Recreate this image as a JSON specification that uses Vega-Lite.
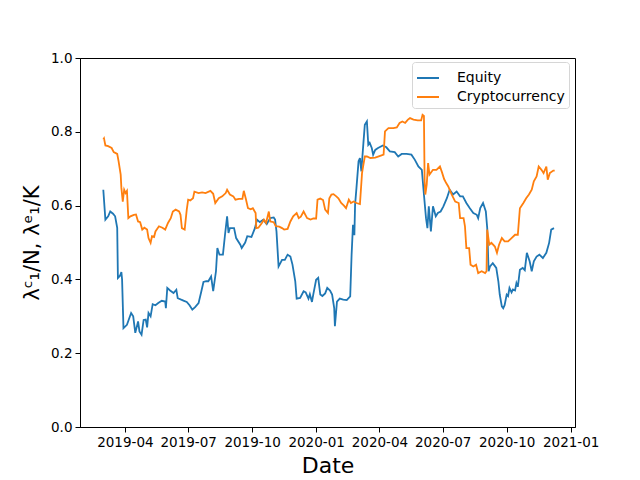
{
  "$schema": "https://vega.github.io/schema/vega-lite/v6.json",
  "width": 495,
  "height": 369,
  "autosize": {"type": "none"},
  "padding": {"left": 80, "top": 58, "right": 65, "bottom": 53},
  "background": "white",
  "config": {
    "font": "DejaVu Sans",
    "view": {"stroke": "black", "strokeWidth": 1}
  },
  "data": {
    "values": [
      {"date": "2019-03-01", "series": "Equity", "value": 0.643},
      {"date": "2019-03-04", "series": "Equity", "value": 0.562},
      {"date": "2019-03-08", "series": "Equity", "value": 0.571},
      {"date": "2019-03-11", "series": "Equity", "value": 0.584},
      {"date": "2019-03-15", "series": "Equity", "value": 0.578},
      {"date": "2019-03-18", "series": "Equity", "value": 0.571},
      {"date": "2019-03-21", "series": "Equity", "value": 0.54},
      {"date": "2019-03-22", "series": "Equity", "value": 0.404},
      {"date": "2019-03-25", "series": "Equity", "value": 0.41},
      {"date": "2019-03-27", "series": "Equity", "value": 0.42},
      {"date": "2019-03-28", "series": "Equity", "value": 0.4},
      {"date": "2019-03-30", "series": "Equity", "value": 0.268},
      {"date": "2019-04-04", "series": "Equity", "value": 0.277},
      {"date": "2019-04-10", "series": "Equity", "value": 0.309},
      {"date": "2019-04-13", "series": "Equity", "value": 0.3},
      {"date": "2019-04-16", "series": "Equity", "value": 0.255},
      {"date": "2019-04-20", "series": "Equity", "value": 0.286},
      {"date": "2019-04-22", "series": "Equity", "value": 0.259},
      {"date": "2019-04-25", "series": "Equity", "value": 0.25},
      {"date": "2019-04-28", "series": "Equity", "value": 0.29},
      {"date": "2019-05-01", "series": "Equity", "value": 0.291},
      {"date": "2019-05-03", "series": "Equity", "value": 0.27},
      {"date": "2019-05-05", "series": "Equity", "value": 0.309},
      {"date": "2019-05-08", "series": "Equity", "value": 0.3},
      {"date": "2019-05-11", "series": "Equity", "value": 0.333},
      {"date": "2019-05-15", "series": "Equity", "value": 0.33},
      {"date": "2019-05-19", "series": "Equity", "value": 0.336},
      {"date": "2019-05-24", "series": "Equity", "value": 0.342},
      {"date": "2019-05-29", "series": "Equity", "value": 0.34},
      {"date": "2019-05-30", "series": "Equity", "value": 0.322},
      {"date": "2019-06-01", "series": "Equity", "value": 0.377},
      {"date": "2019-06-05", "series": "Equity", "value": 0.37},
      {"date": "2019-06-10", "series": "Equity", "value": 0.363},
      {"date": "2019-06-14", "series": "Equity", "value": 0.372},
      {"date": "2019-06-16", "series": "Equity", "value": 0.349},
      {"date": "2019-06-21", "series": "Equity", "value": 0.345},
      {"date": "2019-06-25", "series": "Equity", "value": 0.342},
      {"date": "2019-06-29", "series": "Equity", "value": 0.339},
      {"date": "2019-07-03", "series": "Equity", "value": 0.33},
      {"date": "2019-07-07", "series": "Equity", "value": 0.318},
      {"date": "2019-07-11", "series": "Equity", "value": 0.325},
      {"date": "2019-07-16", "series": "Equity", "value": 0.336},
      {"date": "2019-07-20", "series": "Equity", "value": 0.368},
      {"date": "2019-07-23", "series": "Equity", "value": 0.393},
      {"date": "2019-07-27", "series": "Equity", "value": 0.395},
      {"date": "2019-07-30", "series": "Equity", "value": 0.395},
      {"date": "2019-08-03", "series": "Equity", "value": 0.408},
      {"date": "2019-08-06", "series": "Equity", "value": 0.368},
      {"date": "2019-08-10", "series": "Equity", "value": 0.422},
      {"date": "2019-08-12", "series": "Equity", "value": 0.485},
      {"date": "2019-08-15", "series": "Equity", "value": 0.467},
      {"date": "2019-08-20", "series": "Equity", "value": 0.467},
      {"date": "2019-08-23", "series": "Equity", "value": 0.521},
      {"date": "2019-08-26", "series": "Equity", "value": 0.571},
      {"date": "2019-08-28", "series": "Equity", "value": 0.526},
      {"date": "2019-08-30", "series": "Equity", "value": 0.539},
      {"date": "2019-09-05", "series": "Equity", "value": 0.539},
      {"date": "2019-09-08", "series": "Equity", "value": 0.512},
      {"date": "2019-09-14", "series": "Equity", "value": 0.494},
      {"date": "2019-09-16", "series": "Equity", "value": 0.485},
      {"date": "2019-09-21", "series": "Equity", "value": 0.5},
      {"date": "2019-09-24", "series": "Equity", "value": 0.517},
      {"date": "2019-09-30", "series": "Equity", "value": 0.515},
      {"date": "2019-10-05", "series": "Equity", "value": 0.539},
      {"date": "2019-10-08", "series": "Equity", "value": 0.562},
      {"date": "2019-10-12", "series": "Equity", "value": 0.555},
      {"date": "2019-10-17", "series": "Equity", "value": 0.562},
      {"date": "2019-10-22", "series": "Equity", "value": 0.55},
      {"date": "2019-10-27", "series": "Equity", "value": 0.566},
      {"date": "2019-11-01", "series": "Equity", "value": 0.568},
      {"date": "2019-11-03", "series": "Equity", "value": 0.562},
      {"date": "2019-11-05", "series": "Equity", "value": 0.53},
      {"date": "2019-11-08", "series": "Equity", "value": 0.435},
      {"date": "2019-11-13", "series": "Equity", "value": 0.453},
      {"date": "2019-11-17", "series": "Equity", "value": 0.453},
      {"date": "2019-11-21", "series": "Equity", "value": 0.467},
      {"date": "2019-11-25", "series": "Equity", "value": 0.462},
      {"date": "2019-11-28", "series": "Equity", "value": 0.44},
      {"date": "2019-12-02", "series": "Equity", "value": 0.395},
      {"date": "2019-12-04", "series": "Equity", "value": 0.348},
      {"date": "2019-12-09", "series": "Equity", "value": 0.35},
      {"date": "2019-12-14", "series": "Equity", "value": 0.368},
      {"date": "2019-12-17", "series": "Equity", "value": 0.365},
      {"date": "2019-12-21", "series": "Equity", "value": 0.348},
      {"date": "2019-12-23", "series": "Equity", "value": 0.36},
      {"date": "2019-12-26", "series": "Equity", "value": 0.339},
      {"date": "2019-12-28", "series": "Equity", "value": 0.36},
      {"date": "2020-01-01", "series": "Equity", "value": 0.399},
      {"date": "2020-01-04", "series": "Equity", "value": 0.404},
      {"date": "2020-01-07", "series": "Equity", "value": 0.359},
      {"date": "2020-01-10", "series": "Equity", "value": 0.355},
      {"date": "2020-01-14", "series": "Equity", "value": 0.362},
      {"date": "2020-01-17", "series": "Equity", "value": 0.377},
      {"date": "2020-01-21", "series": "Equity", "value": 0.37},
      {"date": "2020-01-24", "series": "Equity", "value": 0.359},
      {"date": "2020-01-27", "series": "Equity", "value": 0.322},
      {"date": "2020-01-28", "series": "Equity", "value": 0.273},
      {"date": "2020-01-31", "series": "Equity", "value": 0.34},
      {"date": "2020-02-04", "series": "Equity", "value": 0.348},
      {"date": "2020-02-09", "series": "Equity", "value": 0.345},
      {"date": "2020-02-14", "series": "Equity", "value": 0.344},
      {"date": "2020-02-19", "series": "Equity", "value": 0.354},
      {"date": "2020-02-21", "series": "Equity", "value": 0.467},
      {"date": "2020-02-23", "series": "Equity", "value": 0.548},
      {"date": "2020-02-25", "series": "Equity", "value": 0.52},
      {"date": "2020-02-26", "series": "Equity", "value": 0.602},
      {"date": "2020-02-28", "series": "Equity", "value": 0.648},
      {"date": "2020-03-02", "series": "Equity", "value": 0.72},
      {"date": "2020-03-04", "series": "Equity", "value": 0.729},
      {"date": "2020-03-06", "series": "Equity", "value": 0.693},
      {"date": "2020-03-09", "series": "Equity", "value": 0.77},
      {"date": "2020-03-11", "series": "Equity", "value": 0.819},
      {"date": "2020-03-14", "series": "Equity", "value": 0.828},
      {"date": "2020-03-16", "series": "Equity", "value": 0.765},
      {"date": "2020-03-18", "series": "Equity", "value": 0.77},
      {"date": "2020-03-21", "series": "Equity", "value": 0.756},
      {"date": "2020-03-23", "series": "Equity", "value": 0.738},
      {"date": "2020-03-26", "series": "Equity", "value": 0.751},
      {"date": "2020-03-30", "series": "Equity", "value": 0.756},
      {"date": "2020-04-06", "series": "Equity", "value": 0.763},
      {"date": "2020-04-11", "series": "Equity", "value": 0.758},
      {"date": "2020-04-16", "series": "Equity", "value": 0.747},
      {"date": "2020-04-23", "series": "Equity", "value": 0.745},
      {"date": "2020-04-28", "series": "Equity", "value": 0.733},
      {"date": "2020-05-03", "series": "Equity", "value": 0.74},
      {"date": "2020-05-10", "series": "Equity", "value": 0.74},
      {"date": "2020-05-17", "series": "Equity", "value": 0.738},
      {"date": "2020-05-22", "series": "Equity", "value": 0.724},
      {"date": "2020-05-27", "series": "Equity", "value": 0.706},
      {"date": "2020-06-01", "series": "Equity", "value": 0.697},
      {"date": "2020-06-04", "series": "Equity", "value": 0.63},
      {"date": "2020-06-07", "series": "Equity", "value": 0.566},
      {"date": "2020-06-09", "series": "Equity", "value": 0.539},
      {"date": "2020-06-11", "series": "Equity", "value": 0.598},
      {"date": "2020-06-14", "series": "Equity", "value": 0.53},
      {"date": "2020-06-17", "series": "Equity", "value": 0.598},
      {"date": "2020-06-21", "series": "Equity", "value": 0.571},
      {"date": "2020-06-24", "series": "Equity", "value": 0.58},
      {"date": "2020-06-28", "series": "Equity", "value": 0.584},
      {"date": "2020-07-02", "series": "Equity", "value": 0.598},
      {"date": "2020-07-07", "series": "Equity", "value": 0.62},
      {"date": "2020-07-11", "series": "Equity", "value": 0.643},
      {"date": "2020-07-16", "series": "Equity", "value": 0.63},
      {"date": "2020-07-21", "series": "Equity", "value": 0.638},
      {"date": "2020-07-26", "series": "Equity", "value": 0.625},
      {"date": "2020-07-30", "series": "Equity", "value": 0.625},
      {"date": "2020-08-04", "series": "Equity", "value": 0.607},
      {"date": "2020-08-09", "series": "Equity", "value": 0.593},
      {"date": "2020-08-14", "series": "Equity", "value": 0.58},
      {"date": "2020-08-19", "series": "Equity", "value": 0.575},
      {"date": "2020-08-21", "series": "Equity", "value": 0.566},
      {"date": "2020-08-24", "series": "Equity", "value": 0.593},
      {"date": "2020-08-28", "series": "Equity", "value": 0.607},
      {"date": "2020-09-01", "series": "Equity", "value": 0.584},
      {"date": "2020-09-03", "series": "Equity", "value": 0.539},
      {"date": "2020-09-05", "series": "Equity", "value": 0.422},
      {"date": "2020-09-07", "series": "Equity", "value": 0.435},
      {"date": "2020-09-11", "series": "Equity", "value": 0.444},
      {"date": "2020-09-16", "series": "Equity", "value": 0.431},
      {"date": "2020-09-19", "series": "Equity", "value": 0.395},
      {"date": "2020-09-21", "series": "Equity", "value": 0.359},
      {"date": "2020-09-24", "series": "Equity", "value": 0.327},
      {"date": "2020-09-26", "series": "Equity", "value": 0.322},
      {"date": "2020-09-28", "series": "Equity", "value": 0.33},
      {"date": "2020-10-01", "series": "Equity", "value": 0.359},
      {"date": "2020-10-03", "series": "Equity", "value": 0.355},
      {"date": "2020-10-05", "series": "Equity", "value": 0.377},
      {"date": "2020-10-08", "series": "Equity", "value": 0.365},
      {"date": "2020-10-10", "series": "Equity", "value": 0.373},
      {"date": "2020-10-13", "series": "Equity", "value": 0.37},
      {"date": "2020-10-15", "series": "Equity", "value": 0.39},
      {"date": "2020-10-17", "series": "Equity", "value": 0.38},
      {"date": "2020-10-20", "series": "Equity", "value": 0.426},
      {"date": "2020-10-24", "series": "Equity", "value": 0.431},
      {"date": "2020-10-27", "series": "Equity", "value": 0.425},
      {"date": "2020-10-30", "series": "Equity", "value": 0.472},
      {"date": "2020-11-03", "series": "Equity", "value": 0.449},
      {"date": "2020-11-06", "series": "Equity", "value": 0.422},
      {"date": "2020-11-09", "series": "Equity", "value": 0.449},
      {"date": "2020-11-13", "series": "Equity", "value": 0.462},
      {"date": "2020-11-17", "series": "Equity", "value": 0.467},
      {"date": "2020-11-22", "series": "Equity", "value": 0.458},
      {"date": "2020-11-27", "series": "Equity", "value": 0.472},
      {"date": "2020-12-01", "series": "Equity", "value": 0.499},
      {"date": "2020-12-04", "series": "Equity", "value": 0.535},
      {"date": "2020-12-08", "series": "Equity", "value": 0.539},
      {"date": "2019-03-01", "series": "Cryptocurrency", "value": 0.779},
      {"date": "2019-03-02", "series": "Cryptocurrency", "value": 0.782},
      {"date": "2019-03-04", "series": "Cryptocurrency", "value": 0.763},
      {"date": "2019-03-08", "series": "Cryptocurrency", "value": 0.761},
      {"date": "2019-03-13", "series": "Cryptocurrency", "value": 0.756},
      {"date": "2019-03-16", "series": "Cryptocurrency", "value": 0.745},
      {"date": "2019-03-21", "series": "Cryptocurrency", "value": 0.74},
      {"date": "2019-03-23", "series": "Cryptocurrency", "value": 0.72},
      {"date": "2019-03-26", "series": "Cryptocurrency", "value": 0.684},
      {"date": "2019-03-27", "series": "Cryptocurrency", "value": 0.648},
      {"date": "2019-03-29", "series": "Cryptocurrency", "value": 0.611},
      {"date": "2019-03-31", "series": "Cryptocurrency", "value": 0.643},
      {"date": "2019-04-02", "series": "Cryptocurrency", "value": 0.634},
      {"date": "2019-04-04", "series": "Cryptocurrency", "value": 0.64},
      {"date": "2019-04-06", "series": "Cryptocurrency", "value": 0.566},
      {"date": "2019-04-09", "series": "Cryptocurrency", "value": 0.571},
      {"date": "2019-04-14", "series": "Cryptocurrency", "value": 0.575},
      {"date": "2019-04-17", "series": "Cryptocurrency", "value": 0.576},
      {"date": "2019-04-20", "series": "Cryptocurrency", "value": 0.557},
      {"date": "2019-04-23", "series": "Cryptocurrency", "value": 0.555},
      {"date": "2019-04-26", "series": "Cryptocurrency", "value": 0.535},
      {"date": "2019-04-29", "series": "Cryptocurrency", "value": 0.54},
      {"date": "2019-05-03", "series": "Cryptocurrency", "value": 0.535},
      {"date": "2019-05-05", "series": "Cryptocurrency", "value": 0.512},
      {"date": "2019-05-08", "series": "Cryptocurrency", "value": 0.499},
      {"date": "2019-05-10", "series": "Cryptocurrency", "value": 0.517},
      {"date": "2019-05-13", "series": "Cryptocurrency", "value": 0.515},
      {"date": "2019-05-15", "series": "Cryptocurrency", "value": 0.53},
      {"date": "2019-05-20", "series": "Cryptocurrency", "value": 0.544},
      {"date": "2019-05-25", "series": "Cryptocurrency", "value": 0.54},
      {"date": "2019-05-29", "series": "Cryptocurrency", "value": 0.535},
      {"date": "2019-06-02", "series": "Cryptocurrency", "value": 0.553},
      {"date": "2019-06-06", "series": "Cryptocurrency", "value": 0.566},
      {"date": "2019-06-09", "series": "Cryptocurrency", "value": 0.584},
      {"date": "2019-06-13", "series": "Cryptocurrency", "value": 0.589},
      {"date": "2019-06-18", "series": "Cryptocurrency", "value": 0.584},
      {"date": "2019-06-20", "series": "Cryptocurrency", "value": 0.575},
      {"date": "2019-06-22", "series": "Cryptocurrency", "value": 0.539},
      {"date": "2019-06-26", "series": "Cryptocurrency", "value": 0.535},
      {"date": "2019-06-29", "series": "Cryptocurrency", "value": 0.589},
      {"date": "2019-07-01", "series": "Cryptocurrency", "value": 0.616},
      {"date": "2019-07-04", "series": "Cryptocurrency", "value": 0.614},
      {"date": "2019-07-08", "series": "Cryptocurrency", "value": 0.62},
      {"date": "2019-07-10", "series": "Cryptocurrency", "value": 0.638},
      {"date": "2019-07-16", "series": "Cryptocurrency", "value": 0.634},
      {"date": "2019-07-21", "series": "Cryptocurrency", "value": 0.636},
      {"date": "2019-07-26", "series": "Cryptocurrency", "value": 0.634},
      {"date": "2019-08-02", "series": "Cryptocurrency", "value": 0.64},
      {"date": "2019-08-06", "series": "Cryptocurrency", "value": 0.632},
      {"date": "2019-08-09", "series": "Cryptocurrency", "value": 0.607},
      {"date": "2019-08-14", "series": "Cryptocurrency", "value": 0.62},
      {"date": "2019-08-19", "series": "Cryptocurrency", "value": 0.625},
      {"date": "2019-08-24", "series": "Cryptocurrency", "value": 0.634},
      {"date": "2019-08-26", "series": "Cryptocurrency", "value": 0.643},
      {"date": "2019-08-30", "series": "Cryptocurrency", "value": 0.63},
      {"date": "2019-09-04", "series": "Cryptocurrency", "value": 0.625},
      {"date": "2019-09-07", "series": "Cryptocurrency", "value": 0.616},
      {"date": "2019-09-12", "series": "Cryptocurrency", "value": 0.618},
      {"date": "2019-09-17", "series": "Cryptocurrency", "value": 0.618},
      {"date": "2019-09-19", "series": "Cryptocurrency", "value": 0.64},
      {"date": "2019-09-22", "series": "Cryptocurrency", "value": 0.618},
      {"date": "2019-09-25", "series": "Cryptocurrency", "value": 0.593},
      {"date": "2019-09-29", "series": "Cryptocurrency", "value": 0.59},
      {"date": "2019-10-02", "series": "Cryptocurrency", "value": 0.593},
      {"date": "2019-10-06", "series": "Cryptocurrency", "value": 0.58},
      {"date": "2019-10-07", "series": "Cryptocurrency", "value": 0.539},
      {"date": "2019-10-10", "series": "Cryptocurrency", "value": 0.54},
      {"date": "2019-10-15", "series": "Cryptocurrency", "value": 0.553},
      {"date": "2019-10-18", "series": "Cryptocurrency", "value": 0.562},
      {"date": "2019-10-21", "series": "Cryptocurrency", "value": 0.553},
      {"date": "2019-10-25", "series": "Cryptocurrency", "value": 0.584},
      {"date": "2019-10-27", "series": "Cryptocurrency", "value": 0.557},
      {"date": "2019-11-01", "series": "Cryptocurrency", "value": 0.555},
      {"date": "2019-11-04", "series": "Cryptocurrency", "value": 0.544},
      {"date": "2019-11-09", "series": "Cryptocurrency", "value": 0.543},
      {"date": "2019-11-13", "series": "Cryptocurrency", "value": 0.539},
      {"date": "2019-11-16", "series": "Cryptocurrency", "value": 0.535},
      {"date": "2019-11-21", "series": "Cryptocurrency", "value": 0.537},
      {"date": "2019-11-25", "series": "Cryptocurrency", "value": 0.557},
      {"date": "2019-11-29", "series": "Cryptocurrency", "value": 0.571},
      {"date": "2019-12-04", "series": "Cryptocurrency", "value": 0.58},
      {"date": "2019-12-07", "series": "Cryptocurrency", "value": 0.566},
      {"date": "2019-12-10", "series": "Cryptocurrency", "value": 0.57},
      {"date": "2019-12-14", "series": "Cryptocurrency", "value": 0.584},
      {"date": "2019-12-19", "series": "Cryptocurrency", "value": 0.566},
      {"date": "2019-12-24", "series": "Cryptocurrency", "value": 0.562},
      {"date": "2019-12-28", "series": "Cryptocurrency", "value": 0.565},
      {"date": "2020-01-01", "series": "Cryptocurrency", "value": 0.565},
      {"date": "2020-01-03", "series": "Cryptocurrency", "value": 0.616},
      {"date": "2020-01-07", "series": "Cryptocurrency", "value": 0.619},
      {"date": "2020-01-11", "series": "Cryptocurrency", "value": 0.615},
      {"date": "2020-01-14", "series": "Cryptocurrency", "value": 0.589},
      {"date": "2020-01-18", "series": "Cryptocurrency", "value": 0.58},
      {"date": "2020-01-20", "series": "Cryptocurrency", "value": 0.62},
      {"date": "2020-01-23", "series": "Cryptocurrency", "value": 0.63},
      {"date": "2020-01-26", "series": "Cryptocurrency", "value": 0.631},
      {"date": "2020-01-30", "series": "Cryptocurrency", "value": 0.625},
      {"date": "2020-02-02", "series": "Cryptocurrency", "value": 0.62},
      {"date": "2020-02-06", "series": "Cryptocurrency", "value": 0.607},
      {"date": "2020-02-10", "series": "Cryptocurrency", "value": 0.6},
      {"date": "2020-02-13", "series": "Cryptocurrency", "value": 0.593},
      {"date": "2020-02-17", "series": "Cryptocurrency", "value": 0.616},
      {"date": "2020-02-20", "series": "Cryptocurrency", "value": 0.607},
      {"date": "2020-02-24", "series": "Cryptocurrency", "value": 0.611},
      {"date": "2020-02-28", "series": "Cryptocurrency", "value": 0.607},
      {"date": "2020-03-04", "series": "Cryptocurrency", "value": 0.604},
      {"date": "2020-03-07", "series": "Cryptocurrency", "value": 0.688},
      {"date": "2020-03-09", "series": "Cryptocurrency", "value": 0.711},
      {"date": "2020-03-11", "series": "Cryptocurrency", "value": 0.733},
      {"date": "2020-03-14", "series": "Cryptocurrency", "value": 0.733},
      {"date": "2020-03-19", "series": "Cryptocurrency", "value": 0.729},
      {"date": "2020-03-26", "series": "Cryptocurrency", "value": 0.73},
      {"date": "2020-04-02", "series": "Cryptocurrency", "value": 0.735},
      {"date": "2020-04-07", "series": "Cryptocurrency", "value": 0.738},
      {"date": "2020-04-09", "series": "Cryptocurrency", "value": 0.801},
      {"date": "2020-04-14", "series": "Cryptocurrency", "value": 0.81},
      {"date": "2020-04-21", "series": "Cryptocurrency", "value": 0.81},
      {"date": "2020-04-26", "series": "Cryptocurrency", "value": 0.812},
      {"date": "2020-04-30", "series": "Cryptocurrency", "value": 0.824},
      {"date": "2020-05-04", "series": "Cryptocurrency", "value": 0.828},
      {"date": "2020-05-08", "series": "Cryptocurrency", "value": 0.824},
      {"date": "2020-05-12", "series": "Cryptocurrency", "value": 0.833},
      {"date": "2020-05-15", "series": "Cryptocurrency", "value": 0.837},
      {"date": "2020-05-20", "series": "Cryptocurrency", "value": 0.833},
      {"date": "2020-05-26", "series": "Cryptocurrency", "value": 0.831},
      {"date": "2020-05-31", "series": "Cryptocurrency", "value": 0.831},
      {"date": "2020-06-02", "series": "Cryptocurrency", "value": 0.846},
      {"date": "2020-06-04", "series": "Cryptocurrency", "value": 0.843},
      {"date": "2020-06-05", "series": "Cryptocurrency", "value": 0.666},
      {"date": "2020-06-06", "series": "Cryptocurrency", "value": 0.63},
      {"date": "2020-06-08", "series": "Cryptocurrency", "value": 0.657},
      {"date": "2020-06-10", "series": "Cryptocurrency", "value": 0.715},
      {"date": "2020-06-12", "series": "Cryptocurrency", "value": 0.684},
      {"date": "2020-06-17", "series": "Cryptocurrency", "value": 0.697},
      {"date": "2020-06-22", "series": "Cryptocurrency", "value": 0.697},
      {"date": "2020-06-27", "series": "Cryptocurrency", "value": 0.706},
      {"date": "2020-06-30", "series": "Cryptocurrency", "value": 0.69},
      {"date": "2020-07-03", "series": "Cryptocurrency", "value": 0.672},
      {"date": "2020-07-06", "series": "Cryptocurrency", "value": 0.661},
      {"date": "2020-07-09", "series": "Cryptocurrency", "value": 0.652},
      {"date": "2020-07-14", "series": "Cryptocurrency", "value": 0.63},
      {"date": "2020-07-19", "series": "Cryptocurrency", "value": 0.611},
      {"date": "2020-07-24", "series": "Cryptocurrency", "value": 0.607},
      {"date": "2020-07-26", "series": "Cryptocurrency", "value": 0.566},
      {"date": "2020-07-31", "series": "Cryptocurrency", "value": 0.566},
      {"date": "2020-08-02", "series": "Cryptocurrency", "value": 0.544},
      {"date": "2020-08-04", "series": "Cryptocurrency", "value": 0.485},
      {"date": "2020-08-08", "series": "Cryptocurrency", "value": 0.485},
      {"date": "2020-08-10", "series": "Cryptocurrency", "value": 0.44},
      {"date": "2020-08-14", "series": "Cryptocurrency", "value": 0.435},
      {"date": "2020-08-18", "series": "Cryptocurrency", "value": 0.44},
      {"date": "2020-08-21", "series": "Cryptocurrency", "value": 0.417},
      {"date": "2020-08-26", "series": "Cryptocurrency", "value": 0.422},
      {"date": "2020-08-31", "series": "Cryptocurrency", "value": 0.417},
      {"date": "2020-09-02", "series": "Cryptocurrency", "value": 0.422},
      {"date": "2020-09-03", "series": "Cryptocurrency", "value": 0.535},
      {"date": "2020-09-06", "series": "Cryptocurrency", "value": 0.494},
      {"date": "2020-09-09", "series": "Cryptocurrency", "value": 0.499},
      {"date": "2020-09-14", "series": "Cryptocurrency", "value": 0.489},
      {"date": "2020-09-17", "series": "Cryptocurrency", "value": 0.472},
      {"date": "2020-09-20", "series": "Cryptocurrency", "value": 0.494},
      {"date": "2020-09-24", "series": "Cryptocurrency", "value": 0.512},
      {"date": "2020-09-28", "series": "Cryptocurrency", "value": 0.503},
      {"date": "2020-10-03", "series": "Cryptocurrency", "value": 0.503},
      {"date": "2020-10-08", "series": "Cryptocurrency", "value": 0.512},
      {"date": "2020-10-13", "series": "Cryptocurrency", "value": 0.521},
      {"date": "2020-10-17", "series": "Cryptocurrency", "value": 0.521},
      {"date": "2020-10-20", "series": "Cryptocurrency", "value": 0.593},
      {"date": "2020-10-25", "series": "Cryptocurrency", "value": 0.607},
      {"date": "2020-10-29", "series": "Cryptocurrency", "value": 0.62},
      {"date": "2020-11-02", "series": "Cryptocurrency", "value": 0.63},
      {"date": "2020-11-06", "series": "Cryptocurrency", "value": 0.643},
      {"date": "2020-11-09", "series": "Cryptocurrency", "value": 0.666},
      {"date": "2020-11-13", "series": "Cryptocurrency", "value": 0.679},
      {"date": "2020-11-16", "series": "Cryptocurrency", "value": 0.706},
      {"date": "2020-11-20", "series": "Cryptocurrency", "value": 0.697},
      {"date": "2020-11-23", "series": "Cryptocurrency", "value": 0.688},
      {"date": "2020-11-27", "series": "Cryptocurrency", "value": 0.706},
      {"date": "2020-11-29", "series": "Cryptocurrency", "value": 0.67},
      {"date": "2020-12-02", "series": "Cryptocurrency", "value": 0.688},
      {"date": "2020-12-07", "series": "Cryptocurrency", "value": 0.695},
      {"date": "2020-12-09", "series": "Cryptocurrency", "value": 0.695}
    ]
  },
  "mark": {"type": "line", "strokeWidth": 1.8},
  "encoding": {
    "x": {
      "field": "date",
      "type": "temporal",
      "scale": {
        "type": "utc",
        "domain": [
          {"year": 2019, "month": 1, "date": 26, "hours": 12, "utc": true},
          {"year": 2021, "month": 1, "date": 7, "hours": 5, "utc": true}
        ]
      },
      "axis": {
        "title": "Date",
        "titleFontSize": 22,
        "titleFontWeight": "normal",
        "titleColor": "black",
        "titlePadding": 7,
        "labelExpr": "utcFormat(datum.value, '%Y-%m')",
        "tickCount": {"interval": "month", "step": 3},
        "labelFontSize": 13.5,
        "labelColor": "black",
        "labelPadding": 3,
        "labelFlush": false,
        "labelOverlap": false,
        "tickSize": 5,
        "tickColor": "black",
        "domainColor": "black",
        "grid": false
      }
    },
    "y": {
      "field": "value",
      "type": "quantitative",
      "scale": {"domain": [0, 1], "nice": false},
      "axis": {
        "title": "λᶜ₁/N, λᵉ₁/K",
        "titleFontSize": 21,
        "titleFontWeight": "normal",
        "titleColor": "black",
        "titlePadding": 8,
        "values": [0, 0.2, 0.4, 0.6, 0.8, 1],
        "format": ".1f",
        "labelFontSize": 13.5,
        "labelColor": "black",
        "labelPadding": 3,
        "tickSize": 5,
        "tickColor": "black",
        "domainColor": "black",
        "grid": false
      }
    },
    "color": {
      "field": "series",
      "type": "nominal",
      "scale": {
        "domain": ["Equity", "Cryptocurrency"],
        "range": ["#1f77b4", "#ff7f0e"]
      },
      "legend": {
        "title": null,
        "orient": "none",
        "legendX": 332,
        "legendY": 4,
        "symbolType": "stroke",
        "symbolSize": 484,
        "symbolStrokeWidth": 2,
        "labelFontSize": 14,
        "labelColor": "black",
        "labelOffset": 17,
        "rowPadding": -3.4,
        "padding": 4,
        "strokeColor": "#d6d6d6",
        "fillColor": "white",
        "cornerRadius": 3
      }
    }
  }
}
